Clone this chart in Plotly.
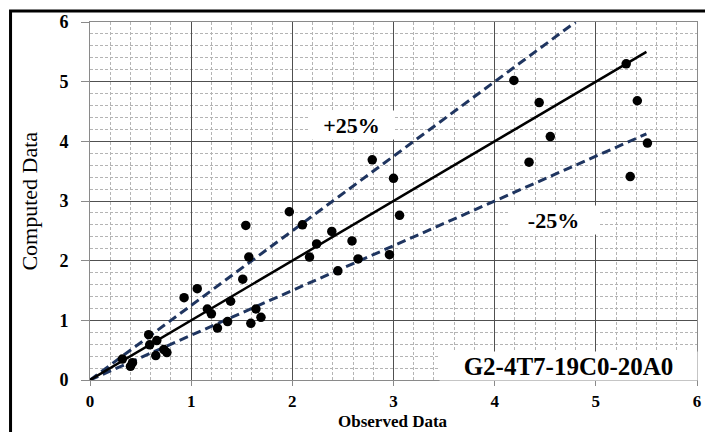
import plotly.graph_objects as go

observed = [0.32, 0.40, 0.42, 0.58, 0.59, 0.66, 0.65, 0.73, 0.76, 0.93, 1.06, 1.16, 1.20, 1.26,
            1.36, 1.39, 1.51, 1.54, 1.57, 1.59, 1.64, 1.69, 1.97, 2.10, 2.17, 2.24, 2.39, 2.45,
            2.59, 2.65, 2.79, 2.96, 3.00, 3.06, 4.19, 4.34, 4.44, 4.55, 5.30, 5.34, 5.41, 5.51]
computed = [0.35, 0.23, 0.29, 0.76, 0.59, 0.66, 0.41, 0.51, 0.46, 1.38, 1.53, 1.19, 1.11, 0.87,
            0.98, 1.32, 1.69, 2.59, 2.06, 0.95, 1.19, 1.05, 2.82, 2.60, 2.06, 2.28, 2.49, 1.83,
            2.33, 2.03, 3.69, 2.10, 3.38, 2.76, 5.02, 3.65, 4.65, 4.08, 5.30, 3.41, 4.68, 3.97]

line_x = [0, 5.5]
equal_y = [0, 5.5]
upper_x = [0, 4.8]
upper_y = [0, 6.0]
lower_x = [0, 5.5]
lower_y = [0, 4.125]

ticks = [0, 1, 2, 3, 4, 5, 6]
tick_labels = ["<b>%d</b>" % t for t in ticks]
serif = "Liberation Serif"

fig = go.Figure()
fig.add_trace(go.Scatter(x=upper_x, y=upper_y, mode="lines",
                         line=dict(color="#1f3560", width=3, dash="9px,5px")))
fig.add_trace(go.Scatter(x=lower_x, y=lower_y, mode="lines",
                         line=dict(color="#1f3560", width=3, dash="9px,5px")))
fig.add_trace(go.Scatter(x=line_x, y=equal_y, mode="lines",
                         line=dict(color="black", width=2.5)))
fig.add_trace(go.Scatter(x=observed, y=computed, mode="markers",
                         marker=dict(color="black", size=9.5, line=dict(width=0))))

axis_common = dict(
    range=[0, 6], tickvals=ticks, ticktext=tick_labels, automargin=False,
    showgrid=True, gridcolor="#505050", gridwidth=1.3,
    zeroline=False, showline=True, linecolor="#8a8a8a", linewidth=1, mirror=True,
    ticks="outside", tickcolor="#8a8a8a",
    tickfont=dict(family=serif, size=18, color="black"),
    minor=dict(dtick=0.2, showgrid=True, gridcolor="#b4b4b4", griddash="3px,2px", gridwidth=1),
)

fig.update_layout(
    width=705, height=432,
    margin=dict(l=89.5, r=8, t=22, b=51.5),
    paper_bgcolor="white", plot_bgcolor="white",
    showlegend=False,
    xaxis=dict(axis_common, ticklen=5, ticklabelstandoff=1, tickfont=dict(family=serif, size=17, color="black")),
    yaxis=dict(axis_common, ticklen=8, ticklabelstandoff=9),
    shapes=[dict(type="rect", xref="paper", yref="paper",
                 x0=-0.1309, x1=1.05, y0=-0.25, y1=1.0307,
                 line=dict(color="black", width=3), fillcolor="rgba(0,0,0,0)", layer="above")],
    annotations=[
        dict(x=0.4996, y=-0.145, xref="paper", yref="paper", text="<b>Observed Data</b>",
             showarrow=False, xanchor="center", yanchor="bottom", borderpad=0,
             font=dict(family=serif, size=17, color="black")),
        dict(x=-0.1012, y=0.5, xref="paper", yref="paper", text="Computed Data",
             showarrow=False, xanchor="center", yanchor="middle", textangle=-90,
             font=dict(family=serif, size=22, color="black")),
        dict(x=2.588, y=4.276, xref="x", yref="y", text="<b>+25%</b>", showarrow=False,
             width=83, height=26, bgcolor="white",
             font=dict(family=serif, size=22, color="black")),
        dict(x=4.583, y=2.686, xref="x", yref="y", text="<b>-25%</b>", showarrow=False,
             width=87, height=26, bgcolor="white",
             font=dict(family=serif, size=22, color="black")),
        dict(x=4.731, y=0.234, xref="x", yref="y", text="<b>G2-4T7-19C0-20A0</b>", showarrow=False,
             width=255, height=26, bgcolor="white",
             font=dict(family=serif, size=25, color="black")),
    ],
)

fig.write_html("out.html")
